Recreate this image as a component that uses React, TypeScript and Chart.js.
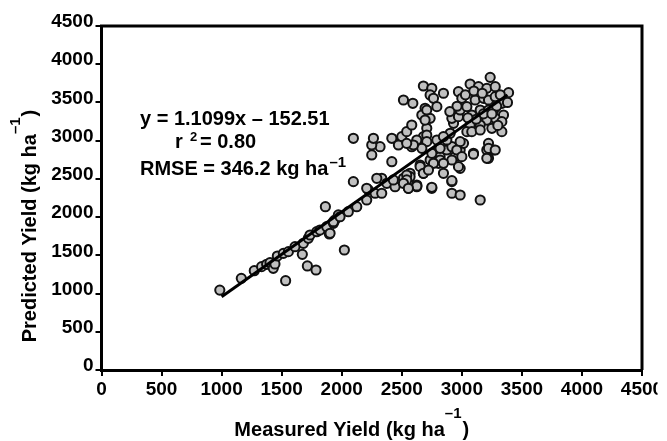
import React, { useEffect, useRef } from "react";
import { Chart, registerables } from "chart.js";

Chart.register(...registerables);

// Measured (x) and predicted (y) yield, kg ha-1
const measuredYield = [
  985, 1164, 1272, 1333, 1375, 1403, 1430, 1444, 1533, 1464, 1514, 1556, 1611, 1672, 1681, 1722, 1714, 1786, 1736, 1792,
  1819, 1897, 1875, 1931, 1944, 1864, 1972, 2022, 1903, 1931, 1986, 2055, 2125, 2208, 2222, 2278, 2333, 2097, 2250, 2417,
  2333, 2375, 2444, 2430, 2514, 2555, 2555, 2625, 2750, 2569, 2680, 2653, 2736, 2764, 2806, 2819, 2875, 2917, 2944, 2986,
  2917, 2917, 2986, 3153, 3097, 3208, 3264, 3222, 2986, 3014, 2319, 2250, 2472, 2097, 2264, 2417, 2500, 2541, 2583, 2472,
  2583, 2625, 2514, 2592, 2680, 2694, 2667, 2708, 2736, 2680, 2208, 2292, 2569, 2625, 2750, 2736, 2764, 2847, 2792, 2708,
  2694, 2625, 2708, 2708, 2667, 2597, 2750, 2819, 2764, 2653, 2680, 2541, 2541, 2625, 2750, 2917, 2875, 2903, 2931, 2917,
  2972, 2986, 2972, 3000, 3069, 3139, 3208, 3278, 3236, 3111, 3181, 3222, 3278, 3042, 3083, 3153, 3222, 3264, 3333, 3347,
  3278, 3333, 3208, 3153, 3069, 3042, 3083, 3153, 3250, 3333, 2986, 2958, 3000, 2972, 2917, 2847, 2819, 2792, 2847, 3097,
  3222, 3222, 3208, 3278, 3389, 2722, 2847, 2514, 2555, 2541, 3030, 3100, 3170, 3320, 3290, 3180, 3120, 3250, 3300, 3050,
  2960, 2900, 3380,
];
const predictedYield = [
  1045, 1199, 1299, 1352, 1383, 1404, 1330, 1387, 1168, 1491, 1526, 1548, 1613, 1513, 1657, 1723, 1361, 1308, 1766, 1809,
  1831, 1779, 1875, 1919, 1962, 2136, 2028, 1570, 1788, 1940, 2005, 2071, 2136, 2224, 2355, 2312, 2312, 2464, 2813, 2725,
  2508, 2442, 2398, 2486, 2508, 2464, 2377, 2398, 2377, 2573, 2573, 2682, 2747, 2835, 2704, 2791, 2878, 2921, 2791, 2638,
  2464, 2312, 2289, 2224, 2835, 2878, 2878, 2769, 2878, 2965, 2921, 2943, 2965, 3031, 3031, 3031, 3053, 3118, 3205, 2943,
  2921, 2987, 3532, 3489, 3715, 3423, 3336, 3162, 3292, 3053, 2377, 2508, 2529, 2420, 3685, 3598, 3554, 3620, 3445, 3401,
  3270, 3009, 3074, 2987, 2900, 2943, 2835, 2747, 2704, 2660, 2573, 2551, 2486, 2407, 2390, 2477, 3009, 3096, 3227, 3292,
  3314, 3401, 3641, 3554, 3741, 3706, 3685, 3706, 3828, 3532, 3554, 3532, 3575, 3445, 3336, 3401, 3401, 3401, 3489, 3336,
  3292, 3249, 3270, 3205, 3205, 3118, 3118, 3140, 3162, 3118, 2987, 2878, 2791, 2660, 2747, 2704, 2900, 3009, 3053, 2822,
  2965, 2900, 2769, 2878, 3628, 2616, 2573, 2442, 2377, 2965, 3600, 3650, 3620, 3600, 3450, 3350, 3280, 3350, 3200, 3300,
  3450, 3380, 3500,
];

// Regression fit
const fitSlope = 1.1099;
const fitIntercept = -152.51;
const fitRange = [1000, 3380];

const axisMin = 0;
const axisMax = 4500;
const axisStep = 500;

const equationLines = ["y = 1.1099x \u2013 152.51", "= 0.80", "RMSE = 346.2 kg ha"];
const xTitle = "Measured Yield (kg ha";
const yTitle = "Predicted Yield (kg ha";
const superMinusOne = "\u20131";

const FONT = "'Liberation Sans', Arial, sans-serif";

export default function App() {
  const ref = useRef<HTMLCanvasElement | null>(null);

  useEffect(() => {
    const canvas = ref.current;
    if (!canvas) return;

    const points = measuredYield.map((x, i) => ({ x, y: predictedYield[i] }));
    const fitPoints = fitRange.map((x) => ({ x, y: fitSlope * x + fitIntercept }));

    const drawTitleWithSup = (ctx: CanvasRenderingContext2D, main: string, size: number, supSize: number, raise: number) => {
      ctx.font = `bold ${size}px ${FONT}`;
      const w1 = ctx.measureText(main).width;
      ctx.font = `bold ${supSize}px ${FONT}`;
      const w2 = ctx.measureText(superMinusOne).width;
      ctx.font = `bold ${size}px ${FONT}`;
      const w3 = ctx.measureText(")").width;
      const total = w1 + w2 + w3 + 1;
      let x = -total / 2;
      ctx.textAlign = "left";
      ctx.textBaseline = "alphabetic";
      ctx.fillText(main, x, 0);
      x += w1;
      ctx.font = `bold ${supSize}px ${FONT}`;
      ctx.fillText(superMinusOne, x, -raise);
      x += w2 + 1;
      ctx.font = `bold ${size}px ${FONT}`;
      ctx.fillText(")", x, 0);
    };

    const decor = {
      id: "decor",
      afterDraw(chart: any) {
        const ctx: CanvasRenderingContext2D = chart.ctx;
        const a = chart.chartArea;
        ctx.save();
        ctx.strokeStyle = "#000";
        ctx.lineWidth = 3;
        ctx.beginPath();
        ctx.moveTo(a.left - 1.5, a.top);
        ctx.lineTo(a.right, a.top);
        ctx.lineTo(a.right, a.bottom);
        ctx.stroke();

        ctx.fillStyle = "#000";
        ctx.save();
        ctx.translate((a.left + a.right) / 2 - 20, 436);
        drawTitleWithSup(ctx, xTitle, 20, 15, 18);
        ctx.restore();
        ctx.save();
        ctx.translate(36, 226);
        ctx.rotate(-Math.PI / 2);
        drawTitleWithSup(ctx, yTitle, 20, 15, 16);
        ctx.restore();

        ctx.textAlign = "left";
        ctx.textBaseline = "alphabetic";
        ctx.font = `bold 20px ${FONT}`;
        ctx.fillText(equationLines[0], 140, 125);
        ctx.fillText("r", 175, 148);
        ctx.font = `bold 13px ${FONT}`;
        ctx.fillText("2", 190, 141);
        ctx.font = `bold 20px ${FONT}`;
        ctx.fillText(equationLines[1], 200, 148);
        ctx.fillText(equationLines[2], 140, 175);
        const w = ctx.measureText(equationLines[2]).width;
        ctx.font = `bold 15px ${FONT}`;
        ctx.fillText(superMinusOne, 140 + w + 1, 167);

        ctx.fillStyle = "#fff";
        ctx.fillRect(657.5, 0, 20, 441);
        ctx.restore();
      },
    };

    const tickFont = { family: FONT, size: 19, weight: "bold" as const };
    const plainLabel = (v: any) => String(v);

    const chart = new Chart(canvas, {
      type: "scatter",
      data: {
        datasets: [
          {
            type: "line",
            data: fitPoints,
            borderColor: "#000",
            borderWidth: 3,
            pointRadius: 0,
            fill: false,
            order: 0,
          } as any,
          {
            data: points,
            backgroundColor: "#c0c0c0",
            borderColor: "#111",
            borderWidth: 2,
            pointRadius: 4.6,
            order: 1,
          },
        ],
      },
      options: {
        animation: false,
        responsive: false,
        devicePixelRatio: 1,
        layout: { padding: { top: 26, right: 25, left: 0, bottom: 0 } },
        plugins: { legend: { display: false }, tooltip: { enabled: false } },
        scales: {
          x: {
            type: "linear",
            min: axisMin,
            max: axisMax,
            ticks: { stepSize: axisStep, font: tickFont, color: "#000", padding: 2, maxRotation: 0, autoSkip: false, callback: plainLabel },
            grid: { drawOnChartArea: false, drawTicks: true, tickLength: 6, color: "#000", lineWidth: 2 },
            border: { display: true, color: "#000", width: 3 },
            afterFit: (s: any) => {
              s.height = 71;
            },
          },
          y: {
            type: "linear",
            min: axisMin,
            max: axisMax,
            ticks: { stepSize: axisStep, font: tickFont, color: "#000", padding: 2, labelOffset: -4, autoSkip: false, callback: plainLabel },
            grid: { drawOnChartArea: false, drawTicks: true, tickLength: 6, color: "#000", lineWidth: 2 },
            border: { display: true, color: "#000", width: 3 },
            afterFit: (s: any) => {
              s.width = 101.5;
            },
          },
        },
      },
      plugins: [decor],
    });

    return () => chart.destroy();
  }, []);

  return (
    <div style={{ position: "fixed", left: 0, top: 0, width: 667, height: 441, background: "#fff" }}>
      <canvas ref={ref} width={667} height={441} style={{ width: 667, height: 441, display: "block" }} />
    </div>
  );
}
